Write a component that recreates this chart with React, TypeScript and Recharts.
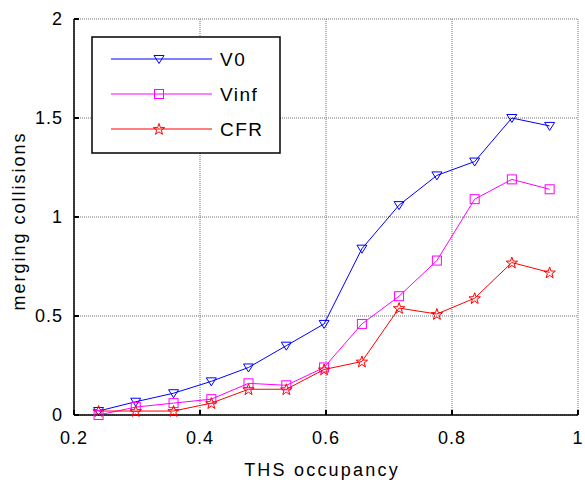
import React from 'react';
import { CartesianGrid, Line, LineChart, XAxis, YAxis, Label } from 'recharts';

const occupancy = [0.239, 0.298, 0.358, 0.418, 0.477, 0.537, 0.597, 0.657, 0.716, 0.776, 0.836, 0.895, 0.955];
const v0 = [0.02, 0.067, 0.11, 0.17, 0.24, 0.35, 0.46, 0.84, 1.06, 1.21, 1.28, 1.5, 1.46];
const vinf = [0.0, 0.04, 0.06, 0.08, 0.16, 0.15, 0.24, 0.46, 0.6, 0.78, 1.09, 1.19, 1.14];
const cfr = [0.02, 0.02, 0.02, 0.06, 0.13, 0.13, 0.23, 0.27, 0.54, 0.51, 0.59, 0.77, 0.72];

const xTicks = [0.2, 0.4, 0.6, 0.8, 1];
const yTicks = [0, 0.5, 1, 1.5, 2];

const FONT = '"Liberation Sans", Arial, sans-serif';

const data = occupancy.map((x, i) => ({ x, v0: v0[i], vinf: vinf[i], cfr: cfr[i] }));

type Marker = 'tri' | 'square' | 'star';

const series: { key: string; name: string; color: string; marker: Marker }[] = [
  { key: 'v0', name: 'V0', color: '#0000ff', marker: 'tri' },
  { key: 'vinf', name: 'Vinf', color: '#ff00ff', marker: 'square' },
  { key: 'cfr', name: 'CFR', color: '#ff0000', marker: 'star' },
];

function starPoints(cx: number, cy: number, r: number) {
  const pts: string[] = [];
  for (let i = 0; i < 10; i++) {
    const rad = i % 2 === 0 ? r : r * 0.4;
    const a = -Math.PI / 2 + (i * Math.PI) / 5;
    pts.push(`${cx + rad * Math.cos(a)},${cy + rad * Math.sin(a)}`);
  }
  return pts.join(' ');
}

function MarkerShape({ cx, cy, marker, color }: { cx: number; cy: number; marker: Marker; color: string }) {
  if (cx == null || cy == null) return null;
  if (marker === 'tri') {
    return (
      <polygon
        points={`${cx - 5},${cy - 3.5} ${cx + 5},${cy - 3.5} ${cx},${cy + 4.5}`}
        fill="none"
        stroke={color}
        strokeWidth={1}
      />
    );
  }
  if (marker === 'square') {
    return <rect x={cx - 4.5} y={cy - 4.5} width={9} height={9} fill="none" stroke={color} strokeWidth={1} />;
  }
  return <polygon points={starPoints(cx, cy + 0.5, 6)} fill="none" stroke={color} strokeWidth={1} />;
}

const XTick = (props: any) => {
  const { x, y, payload } = props;
  const axisY = y - 16;
  return (
    <g>
      <line x1={x} y1={axisY} x2={x} y2={axisY - 5} stroke="#000" strokeWidth={2} />
      <text x={x} y={y + 13} textAnchor="middle" fontSize={18} letterSpacing={1} fontFamily={FONT} fill="#000">
        {String(payload.value)}
      </text>
    </g>
  );
};

const YTick = (props: any) => {
  const { x, y, payload } = props;
  const axisX = x + 11;
  return (
    <g>
      <line x1={axisX} y1={y} x2={axisX + 5} y2={y} stroke="#000" strokeWidth={2} />
      <text x={x} y={y + 6} textAnchor="end" fontSize={18} letterSpacing={1} fontFamily={FONT} fill="#000">
        {String(payload.value)}
      </text>
    </g>
  );
};

const TopTick = (props: any) => {
  const { x, y } = props;
  return <line x1={x} y1={y} x2={x} y2={y + 5} stroke="#000" strokeWidth={2} />;
};

const RightTick = (props: any) => {
  const { x, y } = props;
  return <line x1={x} y1={y} x2={x - 5} y2={y} stroke="#000" strokeWidth={2} />;
};

function LegendBox() {
  return (
    <svg width={190} height={118} style={{ position: 'absolute', left: 91, top: 36 }}>
      <rect x={1} y={1} width={188} height={116} fill="#fff" stroke="#000" strokeWidth={1.5} />
      {series.map((s, i) => {
        const y = 23 + i * 35;
        return (
          <g key={s.key}>
            <line x1={20} y1={y} x2={121} y2={y} stroke={s.color} strokeWidth={1} />
            <MarkerShape cx={68} cy={y} marker={s.marker} color={s.color} />
            <text x={129} y={y + 7} fontSize={19} letterSpacing={1.5} fontFamily={FONT} fill="#000">
              {s.name}
            </text>
          </g>
        );
      })}
    </svg>
  );
}

export default function App() {
  return (
    <div style={{ position: 'absolute', left: 0, top: 0, width: 585, height: 488, background: '#fff' }}>
      <LineChart width={585} height={488} data={data} margin={{ top: 19, right: 7, left: 0, bottom: 0 }}>
        <CartesianGrid stroke="#707070" strokeDasharray="1 1" />
        <XAxis
          dataKey="x"
          type="number"
          domain={[0.2, 1]}
          ticks={xTicks}
          height={73}
          tickSize={0}
          tickMargin={16}
          tickLine={false}
          axisLine={{ stroke: '#000', strokeWidth: 1.5 }}
          tick={<XTick />}
          interval={0}
        >
          <Label
            content={() => (
              <text x={322} y={476} textAnchor="middle" fontSize={18} letterSpacing={2.2} fontFamily={FONT} fill="#000">
                THS occupancy
              </text>
            )}
          />
        </XAxis>
        <XAxis
          xAxisId="top"
          orientation="top"
          dataKey="x"
          type="number"
          domain={[0.2, 1]}
          ticks={xTicks}
          height={0}
          tickSize={0}
          tickLine={false}
          axisLine={{ stroke: '#000', strokeWidth: 1 }}
          tick={<TopTick />}
          interval={0}
        />
        <YAxis
          type="number"
          domain={[0, 2]}
          ticks={yTicks}
          width={74}
          tickSize={0}
          tickMargin={11}
          tickLine={false}
          axisLine={{ stroke: '#000', strokeWidth: 1.5 }}
          tick={<YTick />}
          interval={0}
        >
          <Label
            content={() => (
              <text
                transform="translate(25,221) rotate(-90)"
                textAnchor="middle"
                fontSize={18}
                letterSpacing={2}
                fontFamily={FONT}
                fill="#000"
              >
                merging collisions
              </text>
            )}
          />
        </YAxis>
        <YAxis
          yAxisId="right"
          orientation="right"
          type="number"
          domain={[0, 2]}
          ticks={yTicks}
          width={0}
          tickSize={0}
          tickLine={false}
          axisLine={{ stroke: '#000', strokeWidth: 1 }}
          tick={<RightTick />}
          interval={0}
        />
        {series.map((s) => (
          <Line
            key={s.key}
            dataKey={s.key}
            name={s.name}
            type="linear"
            stroke={s.color}
            strokeWidth={1}
            isAnimationActive={false}
            dot={(p: any) => <MarkerShape key={`${s.key}-${p.index}`} cx={p.cx} cy={p.cy} marker={s.marker} color={s.color} />}
            activeDot={false}
          />
        ))}
      </LineChart>
      <LegendBox />
    </div>
  );
}
